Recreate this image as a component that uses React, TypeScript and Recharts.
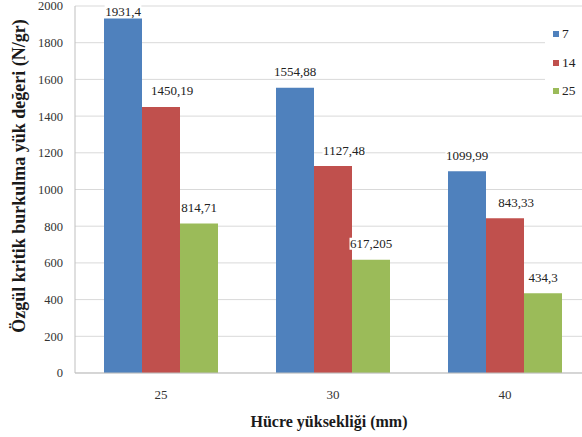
import { BarChart, Bar, XAxis, YAxis, CartesianGrid, Legend, LabelList } from "recharts";

const heights = ["25", "30", "40"];
const load7 = [1931.4, 1554.88, 1099.99];
const load14 = [1450.19, 1127.48, 843.33];
const load25 = [814.71, 617.205, 434.3];
const yTicks = [0, 200, 400, 600, 800, 1000, 1200, 1400, 1600, 1800, 2000];

const series = [
  { key: "s7", name: "7", color: "#4F81BD", shift: 0 },
  { key: "s14", name: "14", color: "#C0504D", shift: 11 },
  { key: "s25", name: "25", color: "#9BBB59", shift: 0 },
];

const data = heights.map((h, i) => ({
  height: h,
  s7: load7[i],
  s14: load14[i],
  s25: load25[i],
}));

const FONT = "Liberation Serif";

const fmt = (v: number) => String(v).replace(".", ",");

// value label with a white backing so gridlines break behind it
function makeLabel(shift: number) {
  return (props: any) => {
    const vb = props.viewBox || props;
    const x = props.x ?? vb.x;
    const y = props.y ?? vb.y;
    const width = props.width ?? vb.width;
    const text = fmt(props.value);
    const cx = x + width / 2 + shift;
    const cy = Math.max(y - 16, 11);
    const digits = text.replace(",", "").length;
    const w = digits * 6.3 + (text.includes(",") ? 3.2 : 0) + 2;
    return (
      <g>
        <rect x={cx - w / 2} y={cy - 6} width={w} height={12} fill="#fff" />
        <text
          x={cx}
          y={cy}
          textAnchor="middle"
          dominantBaseline="central"
          style={{ fontFamily: FONT }}
          fontSize={13}
          fill="#222"
        >
          {text}
        </text>
      </g>
    );
  };
}

function LegendBox() {
  return (
    <div
      style={{
        background: "#fff",
        paddingLeft: 8,
        width: 40,
        fontFamily: FONT,
        fontSize: 13.5,
        color: "#222",
      }}
    >
      {series.map((s) => (
        <div key={s.key} style={{ display: "flex", alignItems: "center", height: 28.5 }}>
          <span style={{ width: 6, height: 6, background: s.color, marginRight: 3, display: "inline-block" }} />
          <span>{s.name}</span>
        </div>
      ))}
    </div>
  );
}

function YTitle() {
  const cx = 19;
  const cy = 176;
  return (
    <text
      x={cx}
      y={cy}
      transform={`rotate(-90 ${cx} ${cy})`}
      textAnchor="middle"
      dominantBaseline="central"
      style={{ fontFamily: FONT }}
      fontWeight="bold"
      fontSize={18}
      fill="#1a1a1a"
    >
      Özgül kritik burkulma yük değeri (N/gr)
    </text>
  );
}

function XTitle(props: any) {
  const vb = props.viewBox;
  const cx = vb.x + vb.width / 2 - 4;
  return (
    <text
      x={cx}
      y={vb.y + 48}
      textAnchor="middle"
      dominantBaseline="central"
      style={{ fontFamily: FONT }}
      fontWeight="bold"
      fontSize={16}
      fill="#1a1a1a"
    >
      Hücre yüksekliği (mm)
    </text>
  );
}

export default function App() {
  return (
    <div
      style={{
        position: "absolute",
        left: 0,
        top: 0,
        width: 582,
        height: 437,
        overflow: "hidden",
        background: "#fff",
        fontFamily: FONT,
      }}
    >
      <BarChart
        width={591}
        height={437}
        data={data}
        margin={{ top: 6, right: 0, left: 0, bottom: 0 }}
        barCategoryGap={29}
        barGap={0}
        style={{ fontFamily: FONT }}
      >
        <CartesianGrid vertical={false} stroke="#d9d9d9" />
        <XAxis
          dataKey="height"
          height={64}
          axisLine={{ stroke: "#bfbfbf" }}
          tickLine={false}
          tickMargin={11}
          tick={{ fontSize: 13, fill: "#333", style: { fontFamily: FONT } }}
          label={<XTitle />}
        />
        <YAxis
          width={75}
          domain={[0, 2000]}
          ticks={yTicks}
          interval={0}
          axisLine={{ stroke: "#bfbfbf" }}
          tickLine={false}
          tickMargin={6}
          tick={{ fontSize: 12.5, fill: "#333", style: { fontFamily: FONT } }}
          label={<YTitle />}
        />
        <Legend
          layout="vertical"
          align="center"
          verticalAlign="middle"
          wrapperStyle={{ left: 545, top: 20, width: 48 }}
          content={<LegendBox />}
        />
        {series.map((s) => (
          <Bar key={s.key} dataKey={s.key} name={s.name} fill={s.color} isAnimationActive={false}>
            <LabelList dataKey={s.key} content={makeLabel(s.shift)} />
          </Bar>
        ))}
      </BarChart>
    </div>
  );
}
